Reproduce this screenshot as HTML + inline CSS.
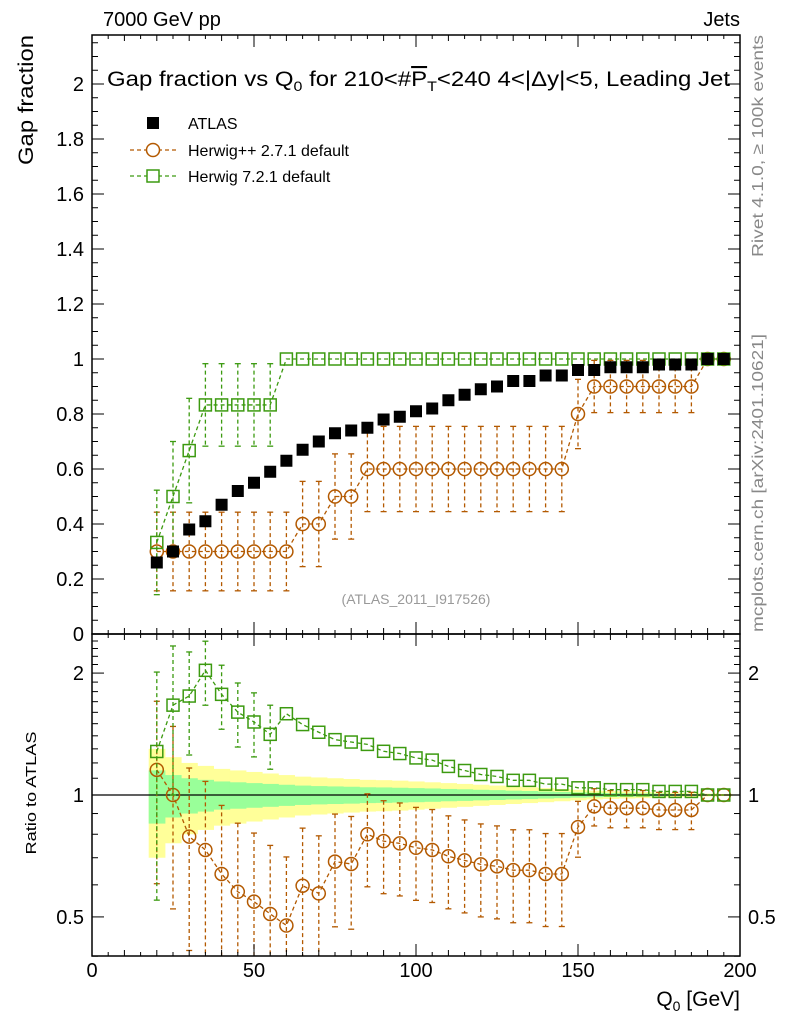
<!DOCTYPE html>
<html><head><meta charset="utf-8">
<style>
body{margin:0;background:#fff;}
svg{display:block;font-family:"Liberation Sans",sans-serif;}
</style></head>
<body>
<svg id="c" width="786" height="1024" viewBox="0 0 786 1024" xmlns="http://www.w3.org/2000/svg">
<text x="103" y="26" font-size="20">7000 GeV pp</text>
<text x="740" y="26" font-size="20" text-anchor="end">Jets</text>
<text x="107" y="86" font-size="21" textLength="623" lengthAdjust="spacingAndGlyphs">Gap fraction vs Q<tspan font-size="14" dy="5">0</tspan><tspan dy="-5"> for 210&lt;#</tspan><tspan text-decoration="overline">P</tspan><tspan font-size="14" dy="5">T</tspan><tspan dy="-5">&lt;240  4&lt;|Δy|&lt;5, Leading Jet</tspan></text>
<text transform="translate(33,35) rotate(-90)" font-size="21" text-anchor="end" textLength="130" lengthAdjust="spacingAndGlyphs">Gap fraction</text>
<text transform="translate(36,793) rotate(-90)" font-size="15" text-anchor="middle" textLength="123" lengthAdjust="spacingAndGlyphs">Ratio to ATLAS</text>
<text transform="translate(763,35) rotate(-90)" font-size="16" fill="#888" text-anchor="end" textLength="222" lengthAdjust="spacingAndGlyphs">Rivet 4.1.0, ≥ 100k events</text>
<text transform="translate(763,632) rotate(-90)" font-size="16" fill="#888" textLength="298" lengthAdjust="spacingAndGlyphs">mcplots.cern.ch [arXiv:2401.10621]</text>
<text x="416" y="604" font-size="14" fill="#999" text-anchor="middle">(ATLAS_2011_I917526)</text>
<text x="740" y="1006" font-size="21" text-anchor="end">Q<tspan font-size="14" dy="5">0</tspan><tspan dy="-5"> [GeV]</tspan></text>
<g id="legend">
<rect x="147" y="117" width="12" height="12" fill="#000"/>
<text x="188" y="129" font-size="16">ATLAS</text>
<line x1="130" y1="150" x2="176" y2="150" stroke="#b35900" stroke-dasharray="4,3" stroke-width="1.3"/>
<circle cx="153" cy="150" r="6.5" fill="#fff" stroke="#b35900" stroke-width="1.5"/>
<text x="188" y="156" font-size="16">Herwig++ 2.7.1 default</text>
<line x1="130" y1="176" x2="176" y2="176" stroke="#3c9a10" stroke-dasharray="4,3" stroke-width="1.3"/>
<rect x="147" y="170" width="12" height="12" fill="#fff" stroke="#3c9a10" stroke-width="1.5"/>
<text x="188" y="182" font-size="16">Herwig 7.2.1 default</text>
</g>
</svg>
<script>
const xs=[20,25,30,35,40,45,50,55,60,65,70,75,80,85,90,95,100,105,110,115,120,125,130,135,140,145,150,155,160,165,170,175,180,185,190,195];
const atlas=[0.26,0.30,0.38,0.41,0.47,0.52,0.55,0.59,0.63,0.67,0.70,0.73,0.74,0.75,0.78,0.79,0.81,0.82,0.85,0.87,0.89,0.90,0.92,0.92,0.94,0.94,0.96,0.96,0.97,0.97,0.97,0.98,0.98,0.98,1.0,1.0];
const bandTot=[0.30,0.24,0.20,0.18,0.16,0.15,0.14,0.13,0.12,0.11,0.105,0.10,0.095,0.09,0.088,0.085,0.08,0.075,0.07,0.065,0.06,0.055,0.05,0.045,0.04,0.035,0.03,0.025,0.022,0.02,0.018,0.015,0.012,0.01,0.008,0.006];
const bandStat=[0.15,0.12,0.10,0.09,0.08,0.075,0.07,0.065,0.06,0.055,0.052,0.05,0.048,0.045,0.044,0.042,0.04,0.038,0.035,0.033,0.03,0.028,0.025,0.023,0.02,0.018,0.015,0.013,0.011,0.01,0.009,0.008,0.006,0.005,0.004,0.003];
const hpp=[0.30,0.30,0.30,0.30,0.30,0.30,0.30,0.30,0.30,0.40,0.40,0.50,0.50,0.60,0.60,0.60,0.60,0.60,0.60,0.60,0.60,0.60,0.60,0.60,0.60,0.60,0.80,0.90,0.90,0.90,0.90,0.90,0.90,0.90,1.0,1.0];
const hppErr=[0.143,0.143,0.143,0.143,0.143,0.143,0.143,0.143,0.143,0.155,0.155,0.155,0.155,0.155,0.155,0.155,0.155,0.155,0.155,0.155,0.155,0.155,0.155,0.155,0.155,0.155,0.126,0.095,0.095,0.095,0.095,0.095,0.095,0.095,0,0];
const h7=[0.333,0.5,0.667,0.833,0.833,0.833,0.833,0.833,1,1,1,1,1,1,1,1,1,1,1,1,1,1,1,1,1,1,1,1,1,1,1,1,1,1,1,1];
const h7Err=[0.19,0.2,0.19,0.15,0.15,0.15,0.15,0.15,0,0,0,0,0,0,0,0,0,0,0,0,0,0,0,0,0,0,0,0,0,0,0,0,0,0,0,0];
const xTicks=[0,50,100,150,200];
const yTicks=[0,0.2,0.4,0.6,0.8,1,1.2,1.4,1.6,1.8,2];
const rTicks=[0.5,1,2];

const NS="http://www.w3.org/2000/svg";
const svg=document.getElementById('c');
const L=92,R=740,T=35,MB=634,RB=956;
const X=v=>L+(R-L)*v/200;
const Y=v=>MB-275*v;
const RY=v=>795-405*Math.log10(v);
function mk(tag,at,parent){const e=document.createElementNS(NS,tag);for(const k in at)e.setAttribute(k,at[k]);(parent||svg).appendChild(e);return e;}
const clipM=mk('clipPath',{id:'cm'});mk('rect',{x:L,y:T,width:R-L,height:MB-T},clipM);
const clipR=mk('clipPath',{id:'cr'});mk('rect',{x:L,y:MB,width:R-L,height:RB-MB},clipR);
const gM=mk('g',{'clip-path':'url(#cm)'});


const gR=mk('g',{'clip-path':'url(#cr)'});



xs.forEach((x,i)=>{
 const a=mk('rect',{x:X(x-2.5),y:RY(1+bandTot[i]),width:X(5)-X(0)+0.5,height:RY(1-bandTot[i])-RY(1+bandTot[i]),fill:'#ffff99'},gR);
 
 
});
xs.forEach((x,i)=>{
 const a=mk('rect',{x:X(x-2.5),y:RY(1+bandStat[i]),width:X(5)-X(0)+0.5,height:RY(1-bandStat[i])-RY(1+bandStat[i]),fill:'#99ff99'},gR);
 
 
});
mk('line',{x1:L,x2:R,y1:RY(1),y2:RY(1),stroke:'#000','stroke-width':1.3},gR);

function series(vals,errs,col,shape,yf,g,name){
 const pts=xs.map((x,i)=>X(x)+','+yf(vals[i])).join(' ');
 const pl=mk('polyline',{points:pts,fill:'none',stroke:col,'stroke-width':1.3,'stroke-dasharray':'4,3'},g);
 
 
 xs.forEach((x,i)=>{
  if(errs[i]>0){
   const lo=Math.max(vals[i]-errs[i],0.01),hi=vals[i]+errs[i];
   const y1=yf(hi),y2=yf(lo),cx=X(x);
   mk('line',{x1:cx,x2:cx,y1:y1,y2:y2,stroke:col,'stroke-width':1.3,'stroke-dasharray':'4,3'},g);
   mk('line',{x1:cx-3,x2:cx+3,y1:y1,y2:y1,stroke:col,'stroke-width':1.3},g);
   mk('line',{x1:cx-3,x2:cx+3,y1:y2,y2:y2,stroke:col,'stroke-width':1.3},g);
  }
  let m;
  if(shape==='c') m=mk('circle',{cx:X(x),cy:yf(vals[i]),r:6.5,fill:'none',stroke:col,'stroke-width':1.5},g);
  else m=mk('rect',{x:X(x)-6,y:yf(vals[i])-6,width:12,height:12,fill:'none',stroke:col,'stroke-width':1.5},g);
  
  
 });
}
series(hpp,hppErr,'#b35900','c',Y,gM,'herwigpp');
series(h7,h7Err,'#3c9a10','s',Y,gM,'herwig7');
xs.forEach((x,i)=>{
 const m=mk('rect',{x:X(x)-6,y:Y(atlas[i])-6,width:12,height:12,fill:'#000'},gM);
 
 
});
series(hpp.map((v,i)=>v/atlas[i]),hppErr.map((e,i)=>e/atlas[i]),'#b35900','c',RY,gR,'herwigpp-ratio');
series(h7.map((v,i)=>v/atlas[i]),h7Err.map((e,i)=>e/atlas[i]),'#3c9a10','s',RY,gR,'herwig7-ratio');

const f1=mk('rect',{x:L,y:T,width:R-L,height:MB-T,fill:'none',stroke:'#000','stroke-width':1.5});

const f2=mk('rect',{x:L,y:MB,width:R-L,height:RB-MB,fill:'none',stroke:'#000','stroke-width':1.5});

const tk=(x1,y1,x2,y2)=>mk('line',{x1,y1,x2,y2,stroke:'#000','stroke-width':1});
for(let v=0;v<=200;v+=5){
 const len=v%50===0?12:(v%10===0?6:4);
 tk(X(v),MB,X(v),MB-len);tk(X(v),T,X(v),T+len);
 tk(X(v),RB,X(v),RB-len);tk(X(v),MB,X(v),MB+len);
}
xTicks.forEach(v=>{const t=mk('text',{x:X(v),y:977,'font-size':20,'text-anchor':'middle'});t.textContent=v;
 });
for(let k=0;k<=43;k++){const v=k*0.05;const len=(k%4===0)?12:6;tk(L,Y(v),L+len,Y(v));tk(R,Y(v),R-len,Y(v));}
yTicks.forEach(v=>{const t=mk('text',{x:L-8,y:Y(v)+7,'font-size':20,'text-anchor':'end'});t.textContent=v;
 });
[0.4,0.5,0.6,0.7,0.8,0.9,1,1.1,1.2,1.3,1.4,1.5,1.6,1.7,1.8,1.9,2,2.1,2.2,2.3,2.4].forEach(v=>{
 const len=(v===0.5||v===1||v===2)?12:6;tk(L,RY(v),L+len,RY(v));tk(R,RY(v),R-len,RY(v));});
rTicks.forEach(v=>{
 const t=mk('text',{x:L-8,y:RY(v)+7,'font-size':20,'text-anchor':'end'});t.textContent=v;
 
 const t2=mk('text',{x:R+8,y:RY(v)+7,'font-size':20});t2.textContent=v;
 
});
</script>
</body></html>
